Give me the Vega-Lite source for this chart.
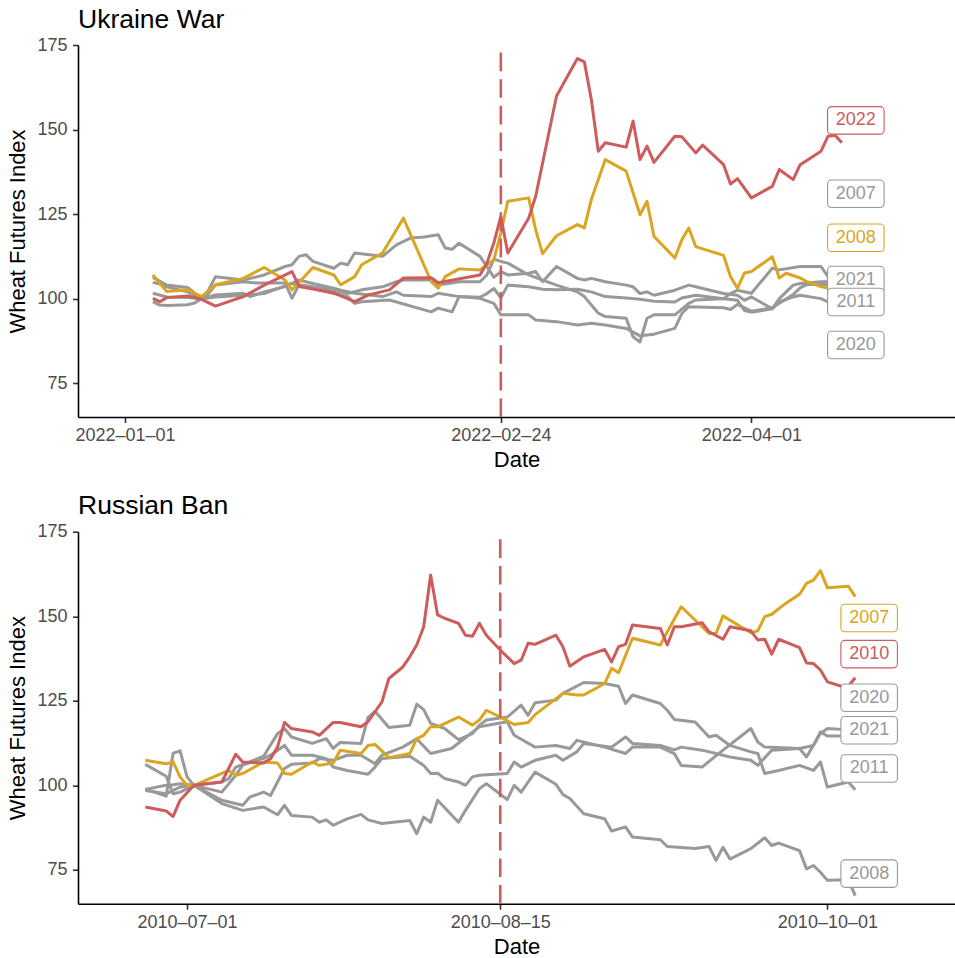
{
"$schema": "https://vega.github.io/schema/vega-lite/v6.json",
"padding": {"left": 6, "top": 6, "right": 0, "bottom": 0},
"config": {
  "font": "Liberation Sans",
  "view": {"stroke": null},
  "axis": {"grid": false, "domainColor": "#000000", "domainWidth": 1.6, "tickColor": "#333333", "tickWidth": 1.6, "tickSize": 5.5,
           "labelFont": "Liberation Sans", "labelFontSize": 18, "labelColor": "#4D4D4D",
           "titleFont": "Liberation Sans", "titleFontSize": 22, "titleFontWeight": "normal", "titleColor": "#000000"},
  "title": {"font": "Liberation Sans", "fontSize": 26.5, "fontWeight": "normal", "anchor": "start", "frame": "group", "color": "#000000", "offset": 3}
},
"datasets": {
  "ukraine": [
    {"d":"2022-01-05","year":"2022","v":100.1},{"d":"2022-01-06","year":"2022","v":99.1},{"d":"2022-01-07","year":"2022","v":100.3},{"d":"2022-01-10","year":"2022","v":100.8},{"d":"2022-01-12","year":"2022","v":99.8},{"d":"2022-01-14","year":"2022","v":97.8},{"d":"2022-01-18","year":"2022","v":100.6},{"d":"2022-01-21","year":"2022","v":104},{"d":"2022-01-25","year":"2022","v":108},{"d":"2022-01-26","year":"2022","v":103.6},{"d":"2022-01-31","year":"2022","v":101.7},{"d":"2022-02-03","year":"2022","v":99.1},{"d":"2022-02-05","year":"2022","v":101.1},{"d":"2022-02-08","year":"2022","v":102.6},{"d":"2022-02-10","year":"2022","v":106.1},{"d":"2022-02-14","year":"2022","v":106.2},{"d":"2022-02-15","year":"2022","v":104.7},{"d":"2022-02-21","year":"2022","v":107},{"d":"2022-02-22","year":"2022","v":110.5},{"d":"2022-02-23","year":"2022","v":116.5},{"d":"2022-02-24","year":"2022","v":124.3},{"d":"2022-02-25","year":"2022","v":113.5},{"d":"2022-02-28","year":"2022","v":123.8},{"d":"2022-03-01","year":"2022","v":130.2},{"d":"2022-03-04","year":"2022","v":159.9},{"d":"2022-03-07","year":"2022","v":171},{"d":"2022-03-08","year":"2022","v":170},{"d":"2022-03-09","year":"2022","v":158.9},{"d":"2022-03-10","year":"2022","v":143.6},{"d":"2022-03-11","year":"2022","v":146.1},{"d":"2022-03-14","year":"2022","v":144.8},{"d":"2022-03-15","year":"2022","v":152.5},{"d":"2022-03-16","year":"2022","v":141.1},{"d":"2022-03-17","year":"2022","v":145.1},{"d":"2022-03-18","year":"2022","v":140.3},{"d":"2022-03-21","year":"2022","v":148},{"d":"2022-03-22","year":"2022","v":147.9},{"d":"2022-03-24","year":"2022","v":143.1},{"d":"2022-03-25","year":"2022","v":145.4},{"d":"2022-03-28","year":"2022","v":139.6},{"d":"2022-03-29","year":"2022","v":133.9},{"d":"2022-03-30","year":"2022","v":135.5},{"d":"2022-04-01","year":"2022","v":129.8},{"d":"2022-04-04","year":"2022","v":133.2},{"d":"2022-04-05","year":"2022","v":138.2},{"d":"2022-04-07","year":"2022","v":135.2},{"d":"2022-04-08","year":"2022","v":139.6},{"d":"2022-04-11","year":"2022","v":143.6},{"d":"2022-04-12","year":"2022","v":148},{"d":"2022-04-13","year":"2022","v":148.3},{"d":"2022-04-14","year":"2022","v":146.1},
    {"d":"2022-01-05","year":"2008","v":107.0},{"d":"2022-01-07","year":"2008","v":102.1},{"d":"2022-01-10","year":"2008","v":102.6},{"d":"2022-01-12","year":"2008","v":100.6},{"d":"2022-01-14","year":"2008","v":104.1},{"d":"2022-01-18","year":"2008","v":106.0},{"d":"2022-01-21","year":"2008","v":109.2},{"d":"2022-01-24","year":"2008","v":105.5},{"d":"2022-01-25","year":"2008","v":102.6},{"d":"2022-01-28","year":"2008","v":109.2},{"d":"2022-01-31","year":"2008","v":107.0},{"d":"2022-02-01","year":"2008","v":104.1},{"d":"2022-02-03","year":"2008","v":106.5},{"d":"2022-02-04","year":"2008","v":110.0},{"d":"2022-02-07","year":"2008","v":113.5},{"d":"2022-02-10","year":"2008","v":123.8},{"d":"2022-02-14","year":"2008","v":105.0},{"d":"2022-02-15","year":"2008","v":103.1},{"d":"2022-02-16","year":"2008","v":106.5},{"d":"2022-02-18","year":"2008","v":108.8},{"d":"2022-02-21","year":"2008","v":108.5},{"d":"2022-02-23","year":"2008","v":111.5},{"d":"2022-02-24","year":"2008","v":119.4},{"d":"2022-02-25","year":"2008","v":128.8},{"d":"2022-02-28","year":"2008","v":129.8},{"d":"2022-03-01","year":"2008","v":120.4},{"d":"2022-03-02","year":"2008","v":113.3},{"d":"2022-03-04","year":"2008","v":118.6},{"d":"2022-03-07","year":"2008","v":121.9},{"d":"2022-03-08","year":"2008","v":120.9},{"d":"2022-03-09","year":"2008","v":129.3},{"d":"2022-03-11","year":"2008","v":141.1},{"d":"2022-03-14","year":"2008","v":137.7},{"d":"2022-03-15","year":"2008","v":131.3},{"d":"2022-03-16","year":"2008","v":124.8},{"d":"2022-03-17","year":"2008","v":128.8},{"d":"2022-03-18","year":"2008","v":118.4},{"d":"2022-03-21","year":"2008","v":112},{"d":"2022-03-22","year":"2008","v":117.4},{"d":"2022-03-23","year":"2008","v":120.9},{"d":"2022-03-24","year":"2008","v":115.4},{"d":"2022-03-28","year":"2008","v":112.8},{"d":"2022-03-29","year":"2008","v":106.5},{"d":"2022-03-30","year":"2008","v":103.1},{"d":"2022-03-31","year":"2008","v":107.6},{"d":"2022-04-01","year":"2008","v":108},{"d":"2022-04-04","year":"2008","v":112.4},{"d":"2022-04-05","year":"2008","v":106.1},{"d":"2022-04-06","year":"2008","v":107.5},{"d":"2022-04-08","year":"2008","v":106.1},{"d":"2022-04-09","year":"2008","v":105},{"d":"2022-04-11","year":"2008","v":103.6},{"d":"2022-04-12","year":"2008","v":103.1},
    {"d":"2022-01-05","year":"2021","v":106.3},{"d":"2022-01-07","year":"2021","v":104},{"d":"2022-01-10","year":"2021","v":103.3},{"d":"2022-01-12","year":"2021","v":100},{"d":"2022-01-13","year":"2021","v":102.5},{"d":"2022-01-14","year":"2021","v":106.5},{"d":"2022-01-18","year":"2021","v":105.5},{"d":"2022-01-21","year":"2021","v":107},{"d":"2022-01-24","year":"2021","v":109.5},{"d":"2022-01-25","year":"2021","v":110},{"d":"2022-01-26","year":"2021","v":112.5},{"d":"2022-01-27","year":"2021","v":113},{"d":"2022-01-28","year":"2021","v":111},{"d":"2022-01-31","year":"2021","v":109},{"d":"2022-02-01","year":"2021","v":110.5},{"d":"2022-02-02","year":"2021","v":110},{"d":"2022-02-03","year":"2021","v":113.5},{"d":"2022-02-07","year":"2021","v":112.5},{"d":"2022-02-09","year":"2021","v":115.9},{"d":"2022-02-11","year":"2021","v":117.9},{"d":"2022-02-13","year":"2021","v":118.2},{"d":"2022-02-15","year":"2021","v":118.9},{"d":"2022-02-16","year":"2021","v":115},{"d":"2022-02-17","year":"2021","v":114.6},{"d":"2022-02-18","year":"2021","v":116.4},{"d":"2022-02-21","year":"2021","v":112.5},{"d":"2022-02-22","year":"2021","v":109.5},{"d":"2022-02-23","year":"2021","v":106.3},{"d":"2022-02-24","year":"2021","v":108},{"d":"2022-02-25","year":"2021","v":107},{"d":"2022-02-28","year":"2021","v":107.5},{"d":"2022-03-01","year":"2021","v":108},{"d":"2022-03-02","year":"2021","v":105},{"d":"2022-03-04","year":"2021","v":109.5},{"d":"2022-03-07","year":"2021","v":106},{"d":"2022-03-08","year":"2021","v":105.5},{"d":"2022-03-09","year":"2021","v":106},{"d":"2022-03-10","year":"2021","v":105.5},{"d":"2022-03-11","year":"2021","v":105},{"d":"2022-03-14","year":"2021","v":104},{"d":"2022-03-15","year":"2021","v":103.5},{"d":"2022-03-16","year":"2021","v":101.5},{"d":"2022-03-17","year":"2021","v":102},{"d":"2022-03-18","year":"2021","v":101},{"d":"2022-03-21","year":"2021","v":102.5},{"d":"2022-03-23","year":"2021","v":104},{"d":"2022-03-24","year":"2021","v":103.5},{"d":"2022-03-28","year":"2021","v":101.5},{"d":"2022-03-30","year":"2021","v":101},{"d":"2022-03-31","year":"2021","v":99.5},{"d":"2022-04-01","year":"2021","v":100.5},{"d":"2022-04-04","year":"2021","v":97},{"d":"2022-04-05","year":"2021","v":100},{"d":"2022-04-06","year":"2021","v":102},{"d":"2022-04-07","year":"2021","v":104},{"d":"2022-04-08","year":"2021","v":104.5},{"d":"2022-04-11","year":"2021","v":105},{"d":"2022-04-12","year":"2021","v":105},
    {"d":"2022-01-05","year":"2007","v":104.8},{"d":"2022-01-06","year":"2007","v":104.3},{"d":"2022-01-07","year":"2007","v":103.5},{"d":"2022-01-10","year":"2007","v":102},{"d":"2022-01-12","year":"2007","v":100},{"d":"2022-01-13","year":"2007","v":101.5},{"d":"2022-01-14","year":"2007","v":104},{"d":"2022-01-18","year":"2007","v":105},{"d":"2022-01-20","year":"2007","v":104.6},{"d":"2022-01-24","year":"2007","v":104.6},{"d":"2022-01-25","year":"2007","v":100.1},{"d":"2022-01-26","year":"2007","v":104.1},{"d":"2022-01-28","year":"2007","v":103.5},{"d":"2022-01-31","year":"2007","v":102.5},{"d":"2022-02-02","year":"2007","v":101.5},{"d":"2022-02-04","year":"2007","v":102.6},{"d":"2022-02-07","year":"2007","v":103.5},{"d":"2022-02-09","year":"2007","v":105},{"d":"2022-02-10","year":"2007","v":105.5},{"d":"2022-02-14","year":"2007","v":105.5},{"d":"2022-02-15","year":"2007","v":104},{"d":"2022-02-18","year":"2007","v":105},{"d":"2022-02-21","year":"2007","v":105},{"d":"2022-02-22","year":"2007","v":107},{"d":"2022-02-23","year":"2007","v":111.7},{"d":"2022-02-24","year":"2007","v":111},{"d":"2022-02-25","year":"2007","v":110.5},{"d":"2022-02-28","year":"2007","v":107},{"d":"2022-03-02","year":"2007","v":105.5},{"d":"2022-03-04","year":"2007","v":104},{"d":"2022-03-07","year":"2007","v":102},{"d":"2022-03-08","year":"2007","v":100.6},{"d":"2022-03-10","year":"2007","v":95.7},{"d":"2022-03-11","year":"2007","v":94.7},{"d":"2022-03-14","year":"2007","v":94.2},{"d":"2022-03-15","year":"2007","v":88.7},{"d":"2022-03-16","year":"2007","v":87.2},{"d":"2022-03-17","year":"2007","v":94.2},{"d":"2022-03-18","year":"2007","v":95.2},{"d":"2022-03-21","year":"2007","v":95.2},{"d":"2022-03-23","year":"2007","v":98.6},{"d":"2022-03-24","year":"2007","v":99.6},{"d":"2022-03-28","year":"2007","v":100},{"d":"2022-03-29","year":"2007","v":101.5},{"d":"2022-03-30","year":"2007","v":102.5},{"d":"2022-04-01","year":"2007","v":101.6},{"d":"2022-04-04","year":"2007","v":109},{"d":"2022-04-05","year":"2007","v":108.5},{"d":"2022-04-08","year":"2007","v":109.5},{"d":"2022-04-11","year":"2007","v":109.5},{"d":"2022-04-12","year":"2007","v":106.5},
    {"d":"2022-01-05","year":"2020","v":101.6},{"d":"2022-01-07","year":"2020","v":100.5},{"d":"2022-01-10","year":"2020","v":100.3},{"d":"2022-01-12","year":"2020","v":100},{"d":"2022-01-14","year":"2020","v":101.1},{"d":"2022-01-18","year":"2020","v":101.6},{"d":"2022-01-19","year":"2020","v":100.6},{"d":"2022-01-21","year":"2020","v":102},{"d":"2022-01-24","year":"2020","v":103.6},{"d":"2022-01-26","year":"2020","v":105.5},{"d":"2022-01-28","year":"2020","v":104.5},{"d":"2022-01-31","year":"2020","v":103.1},{"d":"2022-02-01","year":"2020","v":102.5},{"d":"2022-02-03","year":"2020","v":101.6},{"d":"2022-02-07","year":"2020","v":100.6},{"d":"2022-02-09","year":"2020","v":102},{"d":"2022-02-10","year":"2020","v":101},{"d":"2022-02-14","year":"2020","v":100.6},{"d":"2022-02-15","year":"2020","v":101.6},{"d":"2022-02-18","year":"2020","v":100.6},{"d":"2022-02-21","year":"2020","v":100.1},{"d":"2022-02-23","year":"2020","v":98.6},{"d":"2022-02-24","year":"2020","v":95.2},{"d":"2022-02-28","year":"2020","v":95.2},{"d":"2022-03-01","year":"2020","v":93.7},{"d":"2022-03-04","year":"2020","v":93.2},{"d":"2022-03-07","year":"2020","v":92.2},{"d":"2022-03-09","year":"2020","v":92.7},{"d":"2022-03-11","year":"2020","v":92.2},{"d":"2022-03-14","year":"2020","v":91.2},{"d":"2022-03-16","year":"2020","v":89},{"d":"2022-03-18","year":"2020","v":89.5},{"d":"2022-03-21","year":"2020","v":91.2},{"d":"2022-03-22","year":"2020","v":95.6},{"d":"2022-03-23","year":"2020","v":97.6},{"d":"2022-03-28","year":"2020","v":97.3},{"d":"2022-03-29","year":"2020","v":96.8},{"d":"2022-03-30","year":"2020","v":98.3},{"d":"2022-04-01","year":"2020","v":96.3},{"d":"2022-04-04","year":"2020","v":97.3},{"d":"2022-04-07","year":"2020","v":101.2},{"d":"2022-04-08","year":"2020","v":103.2},{"d":"2022-04-09","year":"2020","v":104.2},{"d":"2022-04-12","year":"2020","v":104.2},
    {"d":"2022-01-05","year":"2011","v":99.1},{"d":"2022-01-06","year":"2011","v":98.1},{"d":"2022-01-07","year":"2011","v":98},{"d":"2022-01-10","year":"2011","v":98.2},{"d":"2022-01-11","year":"2011","v":98.7},{"d":"2022-01-12","year":"2011","v":100},{"d":"2022-01-14","year":"2011","v":100.5},{"d":"2022-01-18","year":"2011","v":101},{"d":"2022-01-21","year":"2011","v":101.5},{"d":"2022-01-25","year":"2011","v":104.5},{"d":"2022-01-27","year":"2011","v":103.5},{"d":"2022-01-31","year":"2011","v":101.5},{"d":"2022-02-02","year":"2011","v":100.6},{"d":"2022-02-03","year":"2011","v":98.6},{"d":"2022-02-04","year":"2011","v":99.1},{"d":"2022-02-08","year":"2011","v":99.6},{"d":"2022-02-14","year":"2011","v":96.1},{"d":"2022-02-15","year":"2011","v":97.2},{"d":"2022-02-17","year":"2011","v":96.1},{"d":"2022-02-18","year":"2011","v":100.6},{"d":"2022-02-21","year":"2011","v":100.4},{"d":"2022-02-22","year":"2011","v":101.5},{"d":"2022-02-23","year":"2011","v":103},{"d":"2022-02-24","year":"2011","v":100.2},{"d":"2022-02-25","year":"2011","v":104},{"d":"2022-02-28","year":"2011","v":103.5},{"d":"2022-03-02","year":"2011","v":102.8},{"d":"2022-03-04","year":"2011","v":102.6},{"d":"2022-03-07","year":"2011","v":102.8},{"d":"2022-03-09","year":"2011","v":102},{"d":"2022-03-11","year":"2011","v":100.6},{"d":"2022-03-14","year":"2011","v":100.2},{"d":"2022-03-16","year":"2011","v":99.8},{"d":"2022-03-18","year":"2011","v":99.2},{"d":"2022-03-21","year":"2011","v":99},{"d":"2022-03-22","year":"2011","v":100.2},{"d":"2022-03-24","year":"2011","v":101},{"d":"2022-03-28","year":"2011","v":100},{"d":"2022-03-30","year":"2011","v":99.5},{"d":"2022-03-31","year":"2011","v":96.5},{"d":"2022-04-01","year":"2011","v":96},{"d":"2022-04-04","year":"2011","v":97},{"d":"2022-04-05","year":"2011","v":99},{"d":"2022-04-07","year":"2011","v":100.5},{"d":"2022-04-08","year":"2011","v":101},{"d":"2022-04-11","year":"2011","v":100},{"d":"2022-04-12","year":"2011","v":99}
  ],
  "ukraine_labels": [
    {"d":"2022-04-16","year":"2022","v":152.7},{"d":"2022-04-16","year":"2007","v":131.0},{"d":"2022-04-16","year":"2008","v":118.0},{"d":"2022-04-16","year":"2021","v":105.5},{"d":"2022-04-16","year":"2011","v":99.0},{"d":"2022-04-16","year":"2020","v":86.3}
  ],
  "ukraine_event": [{"d":"2022-02-24","lo":65,"hi":175}],
  "ban": [
    {"d":"2010-06-25","year":"2010","v":93.6},{"d":"2010-06-28","year":"2010","v":92.4},{"d":"2010-06-29","year":"2010","v":90.8},{"d":"2010-06-30","year":"2010","v":95.6},{"d":"2010-07-02","year":"2010","v":100},{"d":"2010-07-06","year":"2010","v":101},{"d":"2010-07-08","year":"2010","v":109.2},{"d":"2010-07-09","year":"2010","v":106.9},{"d":"2010-07-12","year":"2010","v":106.6},{"d":"2010-07-13","year":"2010","v":107.9},{"d":"2010-07-14","year":"2010","v":111.3},{"d":"2010-07-15","year":"2010","v":118.6},{"d":"2010-07-16","year":"2010","v":116.8},{"d":"2010-07-19","year":"2010","v":115.8},{"d":"2010-07-20","year":"2010","v":114.8},{"d":"2010-07-22","year":"2010","v":118.6},{"d":"2010-07-23","year":"2010","v":118.6},{"d":"2010-07-26","year":"2010","v":117.3},{"d":"2010-07-27","year":"2010","v":118.8},{"d":"2010-07-29","year":"2010","v":124.7},{"d":"2010-07-30","year":"2010","v":131.6},{"d":"2010-08-01","year":"2010","v":135},{"d":"2010-08-02","year":"2010","v":138},{"d":"2010-08-03","year":"2010","v":141.5},{"d":"2010-08-04","year":"2010","v":146.9},{"d":"2010-08-05","year":"2010","v":162.2},{"d":"2010-08-06","year":"2010","v":150.4},{"d":"2010-08-07","year":"2010","v":149.4},{"d":"2010-08-09","year":"2010","v":147.9},{"d":"2010-08-10","year":"2010","v":144.4},{"d":"2010-08-11","year":"2010","v":144.1},{"d":"2010-08-12","year":"2010","v":147.9},{"d":"2010-08-13","year":"2010","v":144.4},{"d":"2010-08-15","year":"2010","v":140},{"d":"2010-08-17","year":"2010","v":136},{"d":"2010-08-18","year":"2010","v":137},{"d":"2010-08-19","year":"2010","v":142},{"d":"2010-08-20","year":"2010","v":141.7},{"d":"2010-08-23","year":"2010","v":144.4},{"d":"2010-08-24","year":"2010","v":141},{"d":"2010-08-25","year":"2010","v":135.2},{"d":"2010-08-27","year":"2010","v":138},{"d":"2010-08-30","year":"2010","v":140.2},{"d":"2010-08-31","year":"2010","v":136.5},{"d":"2010-09-01","year":"2010","v":141},{"d":"2010-09-02","year":"2010","v":141.7},{"d":"2010-09-03","year":"2010","v":147.4},{"d":"2010-09-07","year":"2010","v":146.4},{"d":"2010-09-08","year":"2010","v":141.5},{"d":"2010-09-09","year":"2010","v":146.9},{"d":"2010-09-10","year":"2010","v":146.9},{"d":"2010-09-13","year":"2010","v":148.1},{"d":"2010-09-14","year":"2010","v":145.4},{"d":"2010-09-16","year":"2010","v":143.2},{"d":"2010-09-17","year":"2010","v":146.9},{"d":"2010-09-20","year":"2010","v":145.7},{"d":"2010-09-21","year":"2010","v":143},{"d":"2010-09-22","year":"2010","v":143.2},{"d":"2010-09-23","year":"2010","v":138.8},{"d":"2010-09-24","year":"2010","v":143.2},{"d":"2010-09-27","year":"2010","v":140.7},{"d":"2010-09-28","year":"2010","v":136.2},{"d":"2010-09-29","year":"2010","v":136},{"d":"2010-09-30","year":"2010","v":134.1},{"d":"2010-10-01","year":"2010","v":130.6},{"d":"2010-10-03","year":"2010","v":129.3},{"d":"2010-10-04","year":"2010","v":129.3},{"d":"2010-10-05","year":"2010","v":131.8},
    {"d":"2010-06-25","year":"2007","v":107.4},{"d":"2010-06-28","year":"2007","v":106.4},{"d":"2010-06-29","year":"2007","v":106.9},{"d":"2010-06-30","year":"2007","v":102.5},{"d":"2010-07-01","year":"2007","v":100},{"d":"2010-07-02","year":"2007","v":100},{"d":"2010-07-07","year":"2007","v":104.4},{"d":"2010-07-08","year":"2007","v":103},{"d":"2010-07-09","year":"2007","v":103.5},{"d":"2010-07-12","year":"2007","v":106.9},{"d":"2010-07-14","year":"2007","v":106.6},{"d":"2010-07-15","year":"2007","v":103.5},{"d":"2010-07-16","year":"2007","v":103.3},{"d":"2010-07-19","year":"2007","v":106.9},{"d":"2010-07-20","year":"2007","v":105.9},{"d":"2010-07-22","year":"2007","v":106.6},{"d":"2010-07-23","year":"2007","v":110.4},{"d":"2010-07-26","year":"2007","v":109.4},{"d":"2010-07-27","year":"2007","v":111.8},{"d":"2010-07-28","year":"2007","v":112.1},{"d":"2010-07-30","year":"2007","v":108.2},{"d":"2010-08-02","year":"2007","v":109.4},{"d":"2010-08-03","year":"2007","v":113.8},{"d":"2010-08-04","year":"2007","v":114.8},{"d":"2010-08-05","year":"2007","v":117.3},{"d":"2010-08-06","year":"2007","v":117.3},{"d":"2010-08-09","year":"2007","v":120.2},{"d":"2010-08-11","year":"2007","v":117.8},{"d":"2010-08-12","year":"2007","v":119.3},{"d":"2010-08-13","year":"2007","v":122.2},{"d":"2010-08-15","year":"2007","v":120.2},{"d":"2010-08-17","year":"2007","v":118},{"d":"2010-08-19","year":"2007","v":118.6},{"d":"2010-08-20","year":"2007","v":120.9},{"d":"2010-08-24","year":"2007","v":127.2},{"d":"2010-08-26","year":"2007","v":126.7},{"d":"2010-08-27","year":"2007","v":126.7},{"d":"2010-08-30","year":"2007","v":130.1},{"d":"2010-08-31","year":"2007","v":134.6},{"d":"2010-09-01","year":"2007","v":133.3},{"d":"2010-09-03","year":"2007","v":143.5},{"d":"2010-09-07","year":"2007","v":141.5},{"d":"2010-09-08","year":"2007","v":145.4},{"d":"2010-09-10","year":"2007","v":152.8},{"d":"2010-09-14","year":"2007","v":144.9},{"d":"2010-09-15","year":"2007","v":144.9},{"d":"2010-09-16","year":"2007","v":150.1},{"d":"2010-09-20","year":"2007","v":145.1},{"d":"2010-09-21","year":"2007","v":145.7},{"d":"2010-09-22","year":"2007","v":149.9},{"d":"2010-09-23","year":"2007","v":150.6},{"d":"2010-09-25","year":"2007","v":153.8},{"d":"2010-09-27","year":"2007","v":156.5},{"d":"2010-09-28","year":"2007","v":159.7},{"d":"2010-09-29","year":"2007","v":160.7},{"d":"2010-09-30","year":"2007","v":163.5},{"d":"2010-10-01","year":"2007","v":158.4},{"d":"2010-10-04","year":"2007","v":158.9},{"d":"2010-10-05","year":"2007","v":155.8},
    {"d":"2010-06-25","year":"2008","v":106.2},{"d":"2010-06-28","year":"2008","v":102.7},{"d":"2010-06-29","year":"2008","v":97.5},{"d":"2010-06-30","year":"2008","v":98},{"d":"2010-07-02","year":"2008","v":100},{"d":"2010-07-06","year":"2008","v":94.6},{"d":"2010-07-09","year":"2008","v":92.6},{"d":"2010-07-12","year":"2008","v":93.6},{"d":"2010-07-14","year":"2008","v":91.3},{"d":"2010-07-15","year":"2008","v":94.1},{"d":"2010-07-16","year":"2008","v":91.1},{"d":"2010-07-19","year":"2008","v":90.6},{"d":"2010-07-20","year":"2008","v":89.1},{"d":"2010-07-21","year":"2008","v":89.8},{"d":"2010-07-22","year":"2008","v":88.2},{"d":"2010-07-24","year":"2008","v":90.1},{"d":"2010-07-26","year":"2008","v":91.4},{"d":"2010-07-27","year":"2008","v":89.8},{"d":"2010-07-29","year":"2008","v":88.7},{"d":"2010-08-02","year":"2008","v":89.6},{"d":"2010-08-03","year":"2008","v":85.7},{"d":"2010-08-04","year":"2008","v":90.6},{"d":"2010-08-05","year":"2008","v":89.1},{"d":"2010-08-06","year":"2008","v":95.6},{"d":"2010-08-09","year":"2008","v":89.1},{"d":"2010-08-10","year":"2008","v":92.6},{"d":"2010-08-12","year":"2008","v":99},{"d":"2010-08-13","year":"2008","v":100.5},{"d":"2010-08-16","year":"2008","v":95.8},{"d":"2010-08-17","year":"2008","v":100},{"d":"2010-08-18","year":"2008","v":98},{"d":"2010-08-20","year":"2008","v":103.9},{"d":"2010-08-23","year":"2008","v":100.3},{"d":"2010-08-24","year":"2008","v":97.3},{"d":"2010-08-25","year":"2008","v":96.1},{"d":"2010-08-27","year":"2008","v":91.6},{"d":"2010-08-30","year":"2008","v":90.1},{"d":"2010-08-31","year":"2008","v":86.5},{"d":"2010-09-02","year":"2008","v":87.7},{"d":"2010-09-03","year":"2008","v":84.7},{"d":"2010-09-07","year":"2008","v":83.9},{"d":"2010-09-08","year":"2008","v":81.9},{"d":"2010-09-12","year":"2008","v":81.3},{"d":"2010-09-14","year":"2008","v":81.9},{"d":"2010-09-15","year":"2008","v":77.8},{"d":"2010-09-16","year":"2008","v":81.7},{"d":"2010-09-17","year":"2008","v":78.2},{"d":"2010-09-20","year":"2008","v":81.3},{"d":"2010-09-22","year":"2008","v":84.5},{"d":"2010-09-23","year":"2008","v":82.2},{"d":"2010-09-24","year":"2008","v":82.9},{"d":"2010-09-27","year":"2008","v":80.7},{"d":"2010-09-28","year":"2008","v":75.3},{"d":"2010-09-29","year":"2008","v":76.3},{"d":"2010-09-30","year":"2008","v":74.3},{"d":"2010-10-01","year":"2008","v":71.9},{"d":"2010-10-04","year":"2008","v":72.1},{"d":"2010-10-05","year":"2008","v":67.4},
    {"d":"2010-06-25","year":"2011","v":98.8},{"d":"2010-06-28","year":"2011","v":100},{"d":"2010-06-29","year":"2011","v":100.2},{"d":"2010-06-30","year":"2011","v":100.5},{"d":"2010-07-02","year":"2011","v":100},{"d":"2010-07-06","year":"2011","v":101},{"d":"2010-07-07","year":"2011","v":102},{"d":"2010-07-08","year":"2011","v":105.4},{"d":"2010-07-10","year":"2011","v":106.9},{"d":"2010-07-12","year":"2011","v":108.6},{"d":"2010-07-14","year":"2011","v":115.3},{"d":"2010-07-15","year":"2011","v":116.8},{"d":"2010-07-16","year":"2011","v":114.3},{"d":"2010-07-19","year":"2011","v":112.4},{"d":"2010-07-21","year":"2011","v":113.8},{"d":"2010-07-22","year":"2011","v":110.9},{"d":"2010-07-23","year":"2011","v":112.7},{"d":"2010-07-26","year":"2011","v":112.4},{"d":"2010-07-27","year":"2011","v":120},{"d":"2010-07-28","year":"2011","v":121.9},{"d":"2010-07-30","year":"2011","v":117.1},{"d":"2010-08-02","year":"2011","v":117.8},{"d":"2010-08-03","year":"2011","v":124},{"d":"2010-08-04","year":"2011","v":122.4},{"d":"2010-08-05","year":"2011","v":118.3},{"d":"2010-08-07","year":"2011","v":116.8},{"d":"2010-08-09","year":"2011","v":113.5},{"d":"2010-08-11","year":"2011","v":115.3},{"d":"2010-08-12","year":"2011","v":117.8},{"d":"2010-08-13","year":"2011","v":119.3},{"d":"2010-08-16","year":"2011","v":120.2},{"d":"2010-08-18","year":"2011","v":123.7},{"d":"2010-08-19","year":"2011","v":120.7},{"d":"2010-08-20","year":"2011","v":124.4},{"d":"2010-08-23","year":"2011","v":125.2},{"d":"2010-08-24","year":"2011","v":127.2},{"d":"2010-08-27","year":"2011","v":130.4},{"d":"2010-08-30","year":"2011","v":130.1},{"d":"2010-09-01","year":"2011","v":129.3},{"d":"2010-09-02","year":"2011","v":124.2},{"d":"2010-09-03","year":"2011","v":126.7},{"d":"2010-09-07","year":"2011","v":124.2},{"d":"2010-09-08","year":"2011","v":122.2},{"d":"2010-09-09","year":"2011","v":119.5},{"d":"2010-09-12","year":"2011","v":118.7},{"d":"2010-09-14","year":"2011","v":114.3},{"d":"2010-09-15","year":"2011","v":114.8},{"d":"2010-09-17","year":"2011","v":111.8},{"d":"2010-09-20","year":"2011","v":109.9},{"d":"2010-09-21","year":"2011","v":109.4},{"d":"2010-09-22","year":"2011","v":103.5},{"d":"2010-09-24","year":"2011","v":104.4},{"d":"2010-09-27","year":"2011","v":105.9},{"d":"2010-09-29","year":"2011","v":104.4},{"d":"2010-09-30","year":"2011","v":106.9},{"d":"2010-10-01","year":"2011","v":99.5},{"d":"2010-10-04","year":"2011","v":101},{"d":"2010-10-05","year":"2011","v":98.7},
    {"d":"2010-06-25","year":"2021","v":99},{"d":"2010-06-28","year":"2021","v":96.8},{"d":"2010-06-29","year":"2021","v":109.5},{"d":"2010-06-30","year":"2021","v":110.2},{"d":"2010-07-01","year":"2021","v":102.5},{"d":"2010-07-02","year":"2021","v":100},{"d":"2010-07-06","year":"2021","v":98},{"d":"2010-07-08","year":"2021","v":103},{"d":"2010-07-09","year":"2021","v":106},{"d":"2010-07-12","year":"2021","v":108},{"d":"2010-07-13","year":"2021","v":108.9},{"d":"2010-07-15","year":"2021","v":111.8},{"d":"2010-07-16","year":"2021","v":108.9},{"d":"2010-07-19","year":"2021","v":108.9},{"d":"2010-07-21","year":"2021","v":107.9},{"d":"2010-07-22","year":"2021","v":105.4},{"d":"2010-07-24","year":"2021","v":104.4},{"d":"2010-07-27","year":"2021","v":103.3},{"d":"2010-07-28","year":"2021","v":105.4},{"d":"2010-07-29","year":"2021","v":107.9},{"d":"2010-08-02","year":"2021","v":108.6},{"d":"2010-08-04","year":"2021","v":105.9},{"d":"2010-08-05","year":"2021","v":103.5},{"d":"2010-08-06","year":"2021","v":103.6},{"d":"2010-08-07","year":"2021","v":102},{"d":"2010-08-09","year":"2021","v":101},{"d":"2010-08-10","year":"2021","v":100},{"d":"2010-08-11","year":"2021","v":102.5},{"d":"2010-08-12","year":"2021","v":103},{"d":"2010-08-16","year":"2021","v":103.5},{"d":"2010-08-17","year":"2021","v":106.9},{"d":"2010-08-18","year":"2021","v":105.4},{"d":"2010-08-20","year":"2021","v":107.4},{"d":"2010-08-23","year":"2021","v":108.9},{"d":"2010-08-24","year":"2021","v":107.4},{"d":"2010-08-26","year":"2021","v":109.9},{"d":"2010-08-27","year":"2021","v":112.4},{"d":"2010-08-31","year":"2021","v":111.3},{"d":"2010-09-02","year":"2021","v":114.3},{"d":"2010-09-03","year":"2021","v":112.4},{"d":"2010-09-07","year":"2021","v":111.8},{"d":"2010-09-09","year":"2021","v":110.5},{"d":"2010-09-10","year":"2021","v":111.3},{"d":"2010-09-13","year":"2021","v":110.4},{"d":"2010-09-15","year":"2021","v":109.4},{"d":"2010-09-17","year":"2021","v":108.4},{"d":"2010-09-20","year":"2021","v":107.4},{"d":"2010-09-21","year":"2021","v":105.9},{"d":"2010-09-23","year":"2021","v":110.4},{"d":"2010-09-27","year":"2021","v":110.9},{"d":"2010-09-28","year":"2021","v":108.4},{"d":"2010-09-30","year":"2021","v":115.3},{"d":"2010-10-01","year":"2021","v":116.8},{"d":"2010-10-04","year":"2021","v":116.4},{"d":"2010-10-05","year":"2021","v":116.8},
    {"d":"2010-06-25","year":"2020","v":98.5},{"d":"2010-06-28","year":"2020","v":97.5},{"d":"2010-06-29","year":"2020","v":98.5},{"d":"2010-06-30","year":"2020","v":99.5},{"d":"2010-07-02","year":"2020","v":100},{"d":"2010-07-06","year":"2020","v":95.6},{"d":"2010-07-09","year":"2020","v":94.1},{"d":"2010-07-10","year":"2020","v":96.5},{"d":"2010-07-12","year":"2020","v":98},{"d":"2010-07-13","year":"2020","v":97},{"d":"2010-07-14","year":"2020","v":101},{"d":"2010-07-15","year":"2020","v":105},{"d":"2010-07-16","year":"2020","v":106.2},{"d":"2010-07-19","year":"2020","v":106.6},{"d":"2010-07-20","year":"2020","v":107.9},{"d":"2010-07-22","year":"2020","v":107.4},{"d":"2010-07-24","year":"2020","v":108.9},{"d":"2010-07-26","year":"2020","v":108.9},{"d":"2010-07-28","year":"2020","v":106.4},{"d":"2010-07-29","year":"2020","v":108.9},{"d":"2010-08-01","year":"2020","v":111.3},{"d":"2010-08-03","year":"2020","v":113.8},{"d":"2010-08-05","year":"2020","v":109.4},{"d":"2010-08-08","year":"2020","v":110.9},{"d":"2010-08-12","year":"2020","v":117.3},{"d":"2010-08-16","year":"2020","v":118.8},{"d":"2010-08-17","year":"2020","v":114.8},{"d":"2010-08-20","year":"2020","v":111.3},{"d":"2010-08-23","year":"2020","v":111.8},{"d":"2010-08-25","year":"2020","v":110.9},{"d":"2010-08-26","year":"2020","v":113.3},{"d":"2010-08-30","year":"2020","v":111.3},{"d":"2010-09-02","year":"2020","v":109.4},{"d":"2010-09-03","year":"2020","v":111.3},{"d":"2010-09-07","year":"2020","v":111.3},{"d":"2010-09-09","year":"2020","v":109.4},{"d":"2010-09-10","year":"2020","v":105.9},{"d":"2010-09-13","year":"2020","v":105.4},{"d":"2010-09-16","year":"2020","v":110.4},{"d":"2010-09-20","year":"2020","v":116.8},{"d":"2010-09-21","year":"2020","v":112.8},{"d":"2010-09-22","year":"2020","v":111.3},{"d":"2010-09-27","year":"2020","v":110.9},{"d":"2010-09-29","year":"2020","v":111.8},{"d":"2010-09-30","year":"2020","v":115.8},{"d":"2010-10-01","year":"2020","v":114.6},{"d":"2010-10-04","year":"2020","v":114.6},{"d":"2010-10-05","year":"2020","v":114.8}
  ],
  "ban_labels": [
    {"d":"2010-10-07","year":"2007","v":149.5},{"d":"2010-10-07","year":"2010","v":138.8},{"d":"2010-10-07","year":"2020","v":125.9},{"d":"2010-10-07","year":"2021","v":116.3},{"d":"2010-10-07","year":"2011","v":105.0},{"d":"2010-10-07","year":"2008","v":73.9}
  ],
  "ban_event": [{"d":"2010-08-15","lo":65,"hi":175}]
},
"spacing": 21.7,
"resolve": {"scale": {"x": "independent", "color": "independent", "stroke": "independent"}},
"vconcat": [
  {
    "title": {"text": "Ukraine War"},
    "width": 877, "height": 372,
    "layer": [
      {"data": {"name": "ukraine"}, "transform": [{"filter": "datum.year != '2008' && datum.year != '2022'"}],
       "mark": {"type": "line", "strokeWidth": 3, "strokeJoin": "round"},
       "encoding": {
         "x": {"field": "d", "type": "temporal", "title": "Date",
               "scale": {"type": "utc", "domain": [{"year": 2021, "month": 12, "date": 25, "hours": 6, "utc": true}, {"year": 2022, "month": 4, "date": 30, "hours": 6, "utc": true}]},
               "axis": {"values": [{"year": 2022, "month": 1, "date": 1, "utc": true}, {"year": 2022, "month": 2, "date": 24, "utc": true}, {"year": 2022, "month": 4, "date": 1, "utc": true}], "labelExpr": "utcFormat(datum.value, '%Y–%m–%d')", "labelPadding": 4, "titlePadding": 5}},
         "y": {"field": "v", "type": "quantitative", "title": "Wheat Futures Index",
               "scale": {"domain": [65, 175], "nice": false, "zero": false},
               "axis": {"values": [75, 100, 125, 150, 175], "labelPadding": 5.5, "titlePadding": 7}},
         "color": {"field": "year", "type": "nominal", "legend": null,
                   "scale": {"domain": ["2007", "2008", "2011", "2020", "2021", "2022"], "range": ["#999999", "#DAA520", "#999999", "#999999", "#999999", "#CD5C5C"]}}
       }},
      {"data": {"name": "ukraine"}, "transform": [{"filter": "datum.year == '2008'"}],
       "mark": {"type": "line", "strokeWidth": 3, "strokeJoin": "round"},
       "encoding": {"x": {"field": "d", "type": "temporal"}, "y": {"field": "v", "type": "quantitative"}, "color": {"field": "year", "type": "nominal"}}},
      {"data": {"name": "ukraine"}, "transform": [{"filter": "datum.year == '2022'"}],
       "mark": {"type": "line", "strokeWidth": 3, "strokeJoin": "round"},
       "encoding": {"x": {"field": "d", "type": "temporal"}, "y": {"field": "v", "type": "quantitative"}, "color": {"field": "year", "type": "nominal"}}},
      {"data": {"name": "ukraine_event"},
       "mark": {"type": "rule", "color": "#CD5C5C", "strokeWidth": 2.6, "strokeDash": [18.6, 8]},
       "encoding": {"x": {"field": "d", "type": "temporal"}, "y": {"field": "lo", "type": "quantitative"}, "y2": {"field": "hi"}}},
      {"data": {"name": "ukraine_labels"}, "transform": [{"filter": "datum.year != '2011'"}],
       "mark": {"type": "rect", "width": 56.5, "height": 27.5, "cornerRadius": 4, "fill": "white", "strokeWidth": 1.1},
       "encoding": {"x": {"field": "d", "type": "temporal"}, "y": {"field": "v", "type": "quantitative"},
                    "stroke": {"field": "year", "type": "nominal", "legend": null, "scale": {"domain": ["2007", "2008", "2011", "2020", "2021", "2022"], "range": ["#999999", "#DAA520", "#999999", "#999999", "#999999", "#CD5C5C"]}}}},
      {"data": {"name": "ukraine_labels"}, "transform": [{"filter": "datum.year != '2011'"}],
       "mark": {"type": "text", "fontSize": 18, "font": "Liberation Sans", "align": "center", "baseline": "middle"},
       "encoding": {"x": {"field": "d", "type": "temporal"}, "y": {"field": "v", "type": "quantitative"}, "color": {"field": "year", "type": "nominal"}, "text": {"field": "year"}}},
      {"data": {"name": "ukraine_labels"}, "transform": [{"filter": "datum.year == '2011'"}],
       "mark": {"type": "rect", "width": 56.5, "height": 27.5, "cornerRadius": 4, "fill": "white", "strokeWidth": 1.1},
       "encoding": {"x": {"field": "d", "type": "temporal"}, "y": {"field": "v", "type": "quantitative"}, "stroke": {"field": "year", "type": "nominal", "legend": null}}},
      {"data": {"name": "ukraine_labels"}, "transform": [{"filter": "datum.year == '2011'"}],
       "mark": {"type": "text", "fontSize": 18, "font": "Liberation Sans", "align": "center", "baseline": "middle"},
       "encoding": {"x": {"field": "d", "type": "temporal"}, "y": {"field": "v", "type": "quantitative"}, "color": {"field": "year", "type": "nominal"}, "text": {"field": "year"}}}
    ]
  },
  {
    "title": {"text": "Russian Ban"},
    "width": 877, "height": 372,
    "layer": [
      {"data": {"name": "ban"}, "transform": [{"filter": "datum.year != '2007' && datum.year != '2010'"}],
       "mark": {"type": "line", "strokeWidth": 3, "strokeJoin": "round"},
       "encoding": {
         "x": {"field": "d", "type": "temporal", "title": "Date",
               "scale": {"type": "utc", "domain": [{"year": 2010, "month": 6, "date": 15, "hours": 8, "utc": true}, {"year": 2010, "month": 10, "date": 19, "hours": 8, "utc": true}]},
               "axis": {"values": [{"year": 2010, "month": 7, "date": 1, "utc": true}, {"year": 2010, "month": 8, "date": 15, "utc": true}, {"year": 2010, "month": 10, "date": 1, "utc": true}], "labelExpr": "utcFormat(datum.value, '%Y–%m–%d')", "labelPadding": 4, "titlePadding": 5}},
         "y": {"field": "v", "type": "quantitative", "title": "Wheat Futures Index",
               "scale": {"domain": [65, 175], "nice": false, "zero": false},
               "axis": {"values": [75, 100, 125, 150, 175], "labelPadding": 5.5, "titlePadding": 7}},
         "color": {"field": "year", "type": "nominal", "legend": null,
                   "scale": {"domain": ["2007", "2008", "2010", "2011", "2020", "2021"], "range": ["#DAA520", "#999999", "#CD5C5C", "#999999", "#999999", "#999999"]}}
       }},
      {"data": {"name": "ban"}, "transform": [{"filter": "datum.year == '2007'"}],
       "mark": {"type": "line", "strokeWidth": 3, "strokeJoin": "round"},
       "encoding": {"x": {"field": "d", "type": "temporal"}, "y": {"field": "v", "type": "quantitative"}, "color": {"field": "year", "type": "nominal"}}},
      {"data": {"name": "ban"}, "transform": [{"filter": "datum.year == '2010'"}],
       "mark": {"type": "line", "strokeWidth": 3, "strokeJoin": "round"},
       "encoding": {"x": {"field": "d", "type": "temporal"}, "y": {"field": "v", "type": "quantitative"}, "color": {"field": "year", "type": "nominal"}}},
      {"data": {"name": "ban_event"},
       "mark": {"type": "rule", "color": "#CD5C5C", "strokeWidth": 2.6, "strokeDash": [18.6, 8]},
       "encoding": {"x": {"field": "d", "type": "temporal"}, "y": {"field": "lo", "type": "quantitative"}, "y2": {"field": "hi"}}},
      {"data": {"name": "ban_labels"},
       "mark": {"type": "rect", "width": 56.5, "height": 27.5, "cornerRadius": 4, "fill": "white", "strokeWidth": 1.1},
       "encoding": {"x": {"field": "d", "type": "temporal"}, "y": {"field": "v", "type": "quantitative"},
                    "stroke": {"field": "year", "type": "nominal", "legend": null, "scale": {"domain": ["2007", "2008", "2010", "2011", "2020", "2021"], "range": ["#DAA520", "#999999", "#CD5C5C", "#999999", "#999999", "#999999"]}}}},
      {"data": {"name": "ban_labels"},
       "mark": {"type": "text", "fontSize": 18, "font": "Liberation Sans", "align": "center", "baseline": "middle"},
       "encoding": {"x": {"field": "d", "type": "temporal"}, "y": {"field": "v", "type": "quantitative"}, "color": {"field": "year", "type": "nominal"}, "text": {"field": "year"}}}
    ]
  }
]
}
